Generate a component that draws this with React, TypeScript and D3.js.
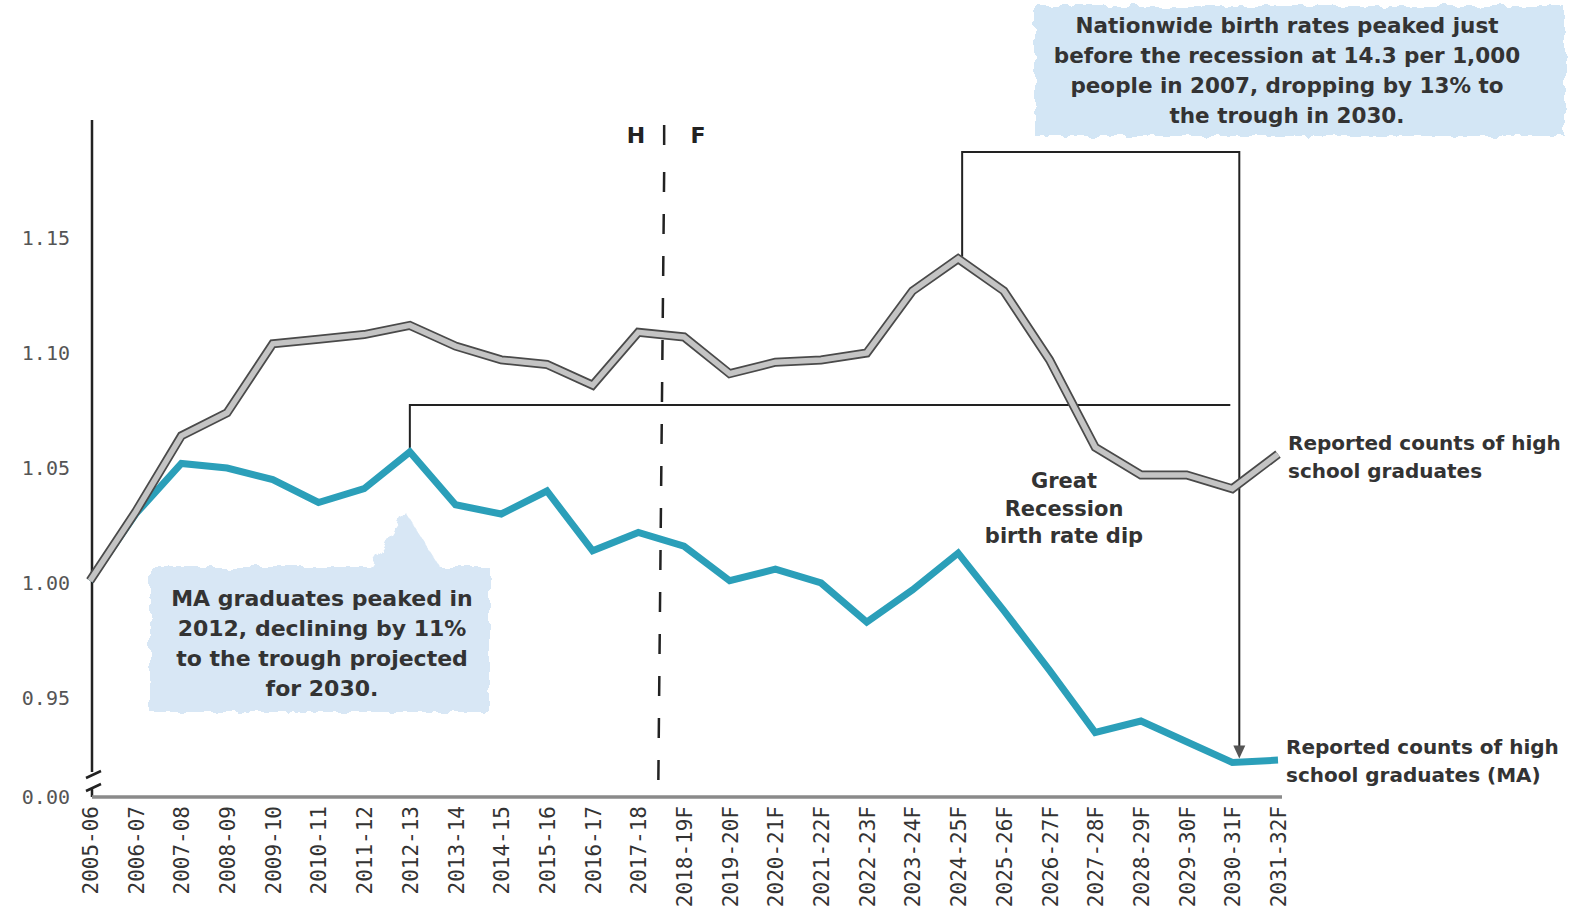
import React from "react";
import * as d3 from "d3";

const categories = [
  "2005-06","2006-07","2007-08","2008-09","2009-10","2010-11","2011-12","2012-13",
  "2013-14","2014-15","2015-16","2016-17","2017-18","2018-19F","2019-20F","2020-21F",
  "2021-22F","2022-23F","2023-24F","2024-25F","2025-26F","2026-27F","2027-28F","2028-29F",
  "2029-30F","2030-31F","2031-32F",
];

const nationalValues = [
  1.001, 1.031, 1.064, 1.074, 1.104, 1.106, 1.108, 1.112, 1.103, 1.097, 1.095, 1.086, 1.109,
  1.107, 1.091, 1.096, 1.097, 1.100, 1.127, 1.141, 1.127, 1.097, 1.059, 1.047, 1.047, 1.041, 1.056,
];

const maValues = [
  1.001, 1.030, 1.052, 1.050, 1.045, 1.035, 1.041, 1.057, 1.034, 1.030, 1.040, 1.014, 1.022,
  1.016, 1.001, 1.006, 1.000, 0.983, 0.997, 1.013, 0.988, 0.962, 0.935, 0.940, 0.931, 0.922, 0.923,
];

const yTicks = [0.95, 1.0, 1.05, 1.1, 1.15];
const yTickLabels = ["0.95", "1.00", "1.05", "1.10", "1.15"];
const baselineLabel = "0.00";

const nationalLabel = ["Reported counts of high", "school graduates"];
const maLabel = ["Reported counts of high", "school graduates (MA)"];
const topNote = [
  "Nationwide birth rates peaked just",
  "before the recession at 14.3 per 1,000",
  "people in 2007, dropping by 13% to",
  "the trough in 2030.",
];
const maNote = [
  "MA graduates peaked in",
  "2012, declining by 11%",
  "to the trough projected",
  "for 2030.",
];
const recessionNote = ["Great", "Recession", "birth rate dip"];

const W = 1571;
const H = 922;
const monoFont = "'DejaVu Sans Mono', 'Liberation Mono', monospace";
const sansFont = "'DejaVu Sans', 'Noto Sans', sans-serif";

export default function App() {
  const x = d3.scalePoint<string>().domain(categories).range([90, 1278]);
  const y = d3.scaleLinear().domain([0.95, 1.15]).range([698, 238]);
  const baseY = 797;
  const axisX = 92;

  const line = d3
    .line<number>()
    .x((_, i) => x(categories[i]) as number)
    .y((v) => y(v))
    .curve(d3.curveLinear);

  const xPeak = x("2024-25F") as number;
  const xTrough = x("2030-31F") as number;
  const xMaPeak = x("2012-13") as number;
  const xDash = ((x("2017-18") as number) + (x("2018-19F") as number)) / 2;
  const topBracketY = 152;
  const midBracketY = 405;
  const arrowTip = y(maValues[25]) - 4;

  return (
    <svg
      width={W}
      height={H}
      style={{ position: "absolute", left: 0, top: 0, background: "#fff" }}
    >
      <defs>
        <filter id="rough" x="-5%" y="-20%" width="110%" height="140%">
          <feTurbulence type="fractalNoise" baseFrequency="0.08" numOctaves="2" seed="3" result="n" />
          <feDisplacementMap in="SourceGraphic" in2="n" scale="10" />
        </filter>
      </defs>

      {/* annotation backgrounds */}
      <g filter="url(#rough)" opacity={0.8}>
        <rect x={1035} y={6} width={530} height={130} fill="#c9e0f3" />
        <polygon
          points={`150,567 370,567 405,512 440,567 490,567 490,712 150,712`}
          fill="#cfe2f3"
        />
      </g>

      {/* y axis */}
      <line x1={axisX} x2={axisX} y1={120} y2={772} stroke="#222" strokeWidth={2.5} />
      <path
        d={`M${axisX - 6},778 L${axisX + 9},771 M${axisX - 6},791 L${axisX + 9},784 M${axisX},788 L${axisX},${baseY}`}
        stroke="#222"
        strokeWidth={2.5}
        fill="none"
      />
      {yTicks.map((t, i) => (
        <text
          key={t}
          x={70}
          y={y(t)}
          dy="0.35em"
          textAnchor="end"
          fontFamily={monoFont}
          fontSize={20}
          fill="#555"
        >
          {yTickLabels[i]}
        </text>
      ))}
      <text x={70} y={baseY} dy="0.35em" textAnchor="end" fontFamily={monoFont} fontSize={20} fill="#555">
        {baselineLabel}
      </text>

      {/* x axis */}
      <line x1={axisX} x2={1282} y1={baseY} y2={baseY} stroke="#8a8a8a" strokeWidth={3.5} />
      {categories.map((c) => (
        <text
          key={c}
          transform={`translate(${(x(c) as number) + 8},${baseY + 9}) rotate(-90)`}
          textAnchor="end"
          fontFamily={monoFont}
          fontSize={21}
          fill="#333"
        >
          {c}
        </text>
      ))}

      {/* H | F divider */}
      <text x={636} y={143} textAnchor="middle" fontFamily={sansFont} fontWeight={600} fontSize={22} fill="#222">H</text>
      <text x={698} y={143} textAnchor="middle" fontFamily={sansFont} fontWeight={600} fontSize={22} fill="#222">F</text>
      <line x1={xDash + 3} x2={xDash + 3} y1={125} y2={145} stroke="#222" strokeWidth={2.5} />
      <line
        x1={xDash + 3}
        x2={xDash - 3}
        y1={172}
        y2={800}
        stroke="#222"
        strokeWidth={2.5}
        strokeDasharray="20 22"
      />

      {/* brackets */}
      <path
        d={`M${xPeak + 4},${y(nationalValues[19]) - 2} L${xPeak + 4},${topBracketY} L${xTrough + 7},${topBracketY} L${xTrough + 7},${arrowTip - 10}`}
        stroke="#222"
        strokeWidth={2}
        fill="none"
      />
      <polygon
        points={`${xTrough + 1},${arrowTip - 13} ${xTrough + 13},${arrowTip - 13} ${xTrough + 7},${arrowTip}`}
        fill="#555"
      />
      <path
        d={`M${xMaPeak},${y(maValues[7]) - 2} L${xMaPeak},${midBracketY} L${xTrough - 2},${midBracketY}`}
        stroke="#222"
        strokeWidth={2}
        fill="none"
      />

      {/* series */}
      <path d={line(maValues) || ""} fill="none" stroke="#2b9fb9" strokeWidth={7} strokeLinejoin="miter" />
      <path d={line(nationalValues) || ""} fill="none" stroke="#4a4a4a" strokeWidth={9} strokeLinejoin="miter" />
      <path d={line(nationalValues) || ""} fill="none" stroke="#c4c4c4" strokeWidth={5.5} strokeLinejoin="miter" />

      {/* right labels */}
      {nationalLabel.map((t, i) => (
        <text key={t} x={1288} y={443 + i * 28} dy="0.35em" fontFamily={sansFont} fontWeight={600} fontSize={20} fill="#333">
          {t}
        </text>
      ))}
      {maLabel.map((t, i) => (
        <text key={t} x={1286} y={747 + i * 28} dy="0.35em" fontFamily={sansFont} fontWeight={600} fontSize={20} fill="#333">
          {t}
        </text>
      ))}

      {/* notes */}
      {topNote.map((t, i) => (
        <text key={t} x={1287} y={25 + i * 30} dy="0.35em" textAnchor="middle" fontFamily={sansFont} fontWeight={600} fontSize={21.5} fill="#333">
          {t}
        </text>
      ))}
      {maNote.map((t, i) => (
        <text key={t} x={322} y={598 + i * 30} dy="0.35em" textAnchor="middle" fontFamily={sansFont} fontWeight={600} fontSize={22} fill="#333">
          {t}
        </text>
      ))}
      {recessionNote.map((t, i) => (
        <text key={t} x={1064} y={481 + i * 27.5} dy="0.35em" textAnchor="middle" fontFamily={sansFont} fontWeight={600} fontSize={21} fill="#333">
          {t}
        </text>
      ))}
    </svg>
  );
}
